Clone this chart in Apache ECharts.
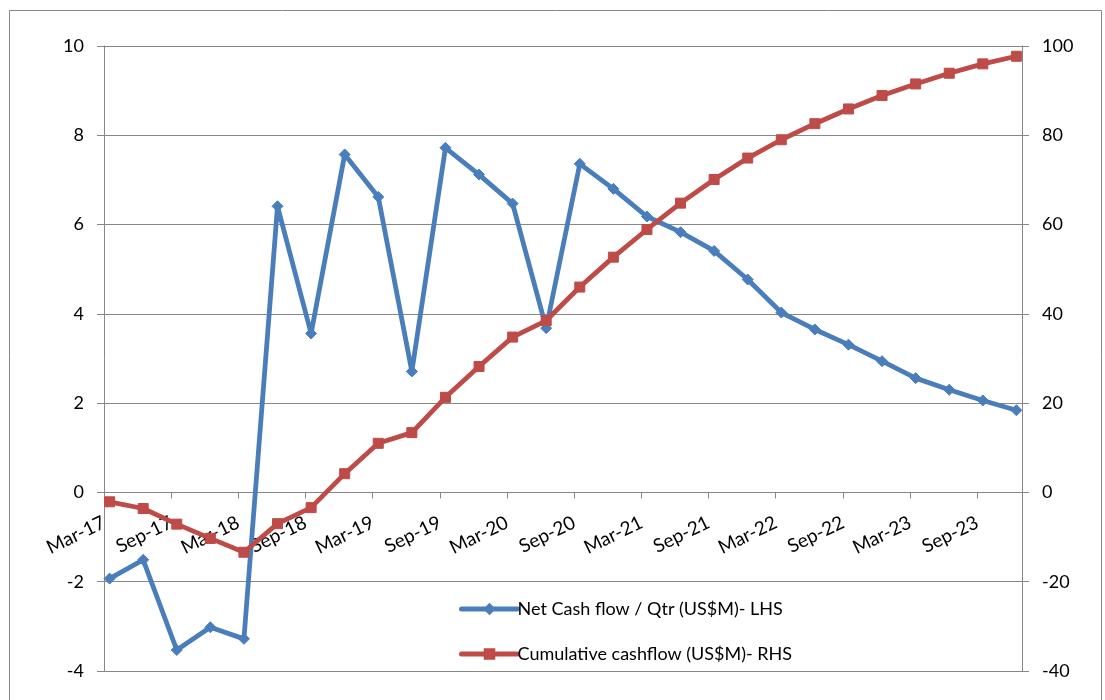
<!DOCTYPE html>
<html>
<head>
<meta charset="utf-8">
<script src="https://cdn.jsdelivr.net/npm/echarts/dist/echarts.min.js"></script>
<style>
  html, body { margin: 0; padding: 0; background: #ffffff; }
  #chart { width: 1105px; height: 700px; }
</style>
</head>
<body>
<div id="chart"></div>
<script>
// Quarter-end labels, Mar-17 .. Dec-23
const quarterLabels = [
  'Mar-17', 'Jun-17', 'Sep-17', 'Dec-17',
  'Mar-18', 'Jun-18', 'Sep-18', 'Dec-18',
  'Mar-19', 'Jun-19', 'Sep-19', 'Dec-19',
  'Mar-20', 'Jun-20', 'Sep-20', 'Dec-20',
  'Mar-21', 'Jun-21', 'Sep-21', 'Dec-21',
  'Mar-22', 'Jun-22', 'Sep-22', 'Dec-22',
  'Mar-23', 'Jun-23', 'Sep-23', 'Dec-23'
];

// Net cash flow per quarter, US$M (left axis)
const netCashFlow = [
  -1.93, -1.51, -3.53, -3.02,
  -3.28, 6.41, 3.56, 7.57,
  6.62, 2.71, 7.72, 7.12,
  6.47, 3.68, 7.36, 6.80,
  6.18, 5.83, 5.41, 4.77,
  4.03, 3.65, 3.31, 2.94,
  2.56, 2.30, 2.06, 1.84
];

// Cumulative cash flow, US$M (right axis)
const cumulativeCashFlow = [
  -2.1, -3.6, -7.1, -10.3,
  -13.4, -7.0, -3.4, 4.2,
  11.0, 13.4, 21.3, 28.2,
  34.8, 38.5, 46.0, 52.7,
  58.9, 64.8, 70.1, 74.9,
  79.0, 82.6, 85.9, 88.9,
  91.5, 93.9, 96.0, 97.7
];

// Axis ticks
const leftTicks = { min: -4, max: 10, interval: 2 };
const rightTicks = { min: -40, max: 100, interval: 20 };

// The time axis runs in months from the start of Mar-17 to the end of Dec-23;
// each quarter sits in the middle of its month.
const monthsTotal = 82;
const monthOf = i => i * 3 + 0.5;

const FONT = 'Lato, "Open Sans", sans-serif';
const GRAY = '#878787';
const BLUE = '#4a7ebb';
const RED = '#be4b48';

const GRID = { left: 104, right: 83, top: 46, bottom: 29 };
const CHART_H = 700;
// lift the date axis from the bottom edge up to the left axis' zero line
const plotH = CHART_H - GRID.top - GRID.bottom;
const zeroLift = plotH * (0 - leftTicks.min) / (leftTicks.max - leftTicks.min);

const chart = echarts.init(document.getElementById('chart'), null, { renderer: 'canvas' });

chart.setOption({
  backgroundColor: '#ffffff',
  animation: false,
  textStyle: { fontFamily: FONT },
  graphic: [{
    type: 'rect',
    shape: { x: 9.5, y: 10.5, width: 1092, height: 700 },
    style: { fill: 'none', stroke: GRAY, lineWidth: 1 },
    silent: true,
    z: -10
  }],
  grid: Object.assign({ containLabel: false, outerBoundsMode: 'none' }, GRID),
  legend: {
    orient: 'vertical',
    left: 459,
    top: 599,
    padding: 0,
    itemWidth: 56,
    itemHeight: 12,
    itemGap: 25,
    lineStyle: { width: 5 },
    textStyle: { fontFamily: FONT, fontSize: 18, color: '#000000', lineHeight: 20, padding: [0, 0, 0, -5] },
    data: ['Net Cash flow / Qtr (US$M)- LHS', 'Cumulative cashflow (US$M)- RHS']
  },
  xAxis: {
    type: 'value',
    position: 'bottom',
    offset: -zeroLift,
    min: 0,
    max: monthsTotal,
    interval: 6,
    axisLine: { onZero: false, lineStyle: { color: GRAY, width: 1 } },
    axisTick: { show: true, inside: false, length: 6, lineStyle: { color: GRAY, width: 1 } },
    splitLine: { show: false },
    axisLabel: {
      rotate: 26,
      margin: 29,
      showMaxLabel: false,
      fontFamily: FONT,
      fontSize: 19,
      color: '#000000',
      formatter: v => (v % 6 === 0 && v < monthsTotal) ? quarterLabels[v / 3] : ''
    }
  },
  yAxis: [{
    type: 'value',
    position: 'left',
    min: leftTicks.min,
    max: leftTicks.max,
    interval: leftTicks.interval,
    axisLine: { show: true, onZero: false, lineStyle: { color: GRAY, width: 1 } },
    axisTick: { show: true, inside: false, length: 7, lineStyle: { color: GRAY, width: 1 } },
    splitLine: { show: true, lineStyle: { color: GRAY, width: 1 } },
    axisLabel: { margin: 20, fontFamily: FONT, fontSize: 18, color: '#000000' }
  }, {
    type: 'value',
    position: 'right',
    min: rightTicks.min,
    max: rightTicks.max,
    interval: rightTicks.interval,
    axisLine: { show: true, onZero: false, lineStyle: { color: GRAY, width: 1 } },
    axisTick: { show: true, inside: false, length: 7, lineStyle: { color: GRAY, width: 1 } },
    splitLine: { show: false },
    axisLabel: { margin: 20, fontFamily: FONT, fontSize: 18, color: '#000000' }
  }],
  series: [{
    name: 'Net Cash flow / Qtr (US$M)- LHS',
    type: 'line',
    yAxisIndex: 0,
    data: netCashFlow.map((v, i) => [monthOf(i), v]),
    symbol: 'diamond',
    symbolSize: 11,
    showAllSymbol: true,
    lineStyle: { color: BLUE, width: 4.8, join: 'round', cap: 'round' },
    itemStyle: { color: BLUE, borderColor: BLUE, borderWidth: 1 },
    z: 3
  }, {
    name: 'Cumulative cashflow (US$M)- RHS',
    type: 'line',
    yAxisIndex: 1,
    data: cumulativeCashFlow.map((v, i) => [monthOf(i), v]),
    symbol: 'rect',
    symbolSize: 10,
    showAllSymbol: true,
    lineStyle: { color: RED, width: 4.8, join: 'round', cap: 'round' },
    itemStyle: { color: RED, borderColor: RED, borderWidth: 1 },
    z: 4
  }]
});
</script>
</body>
</html>
